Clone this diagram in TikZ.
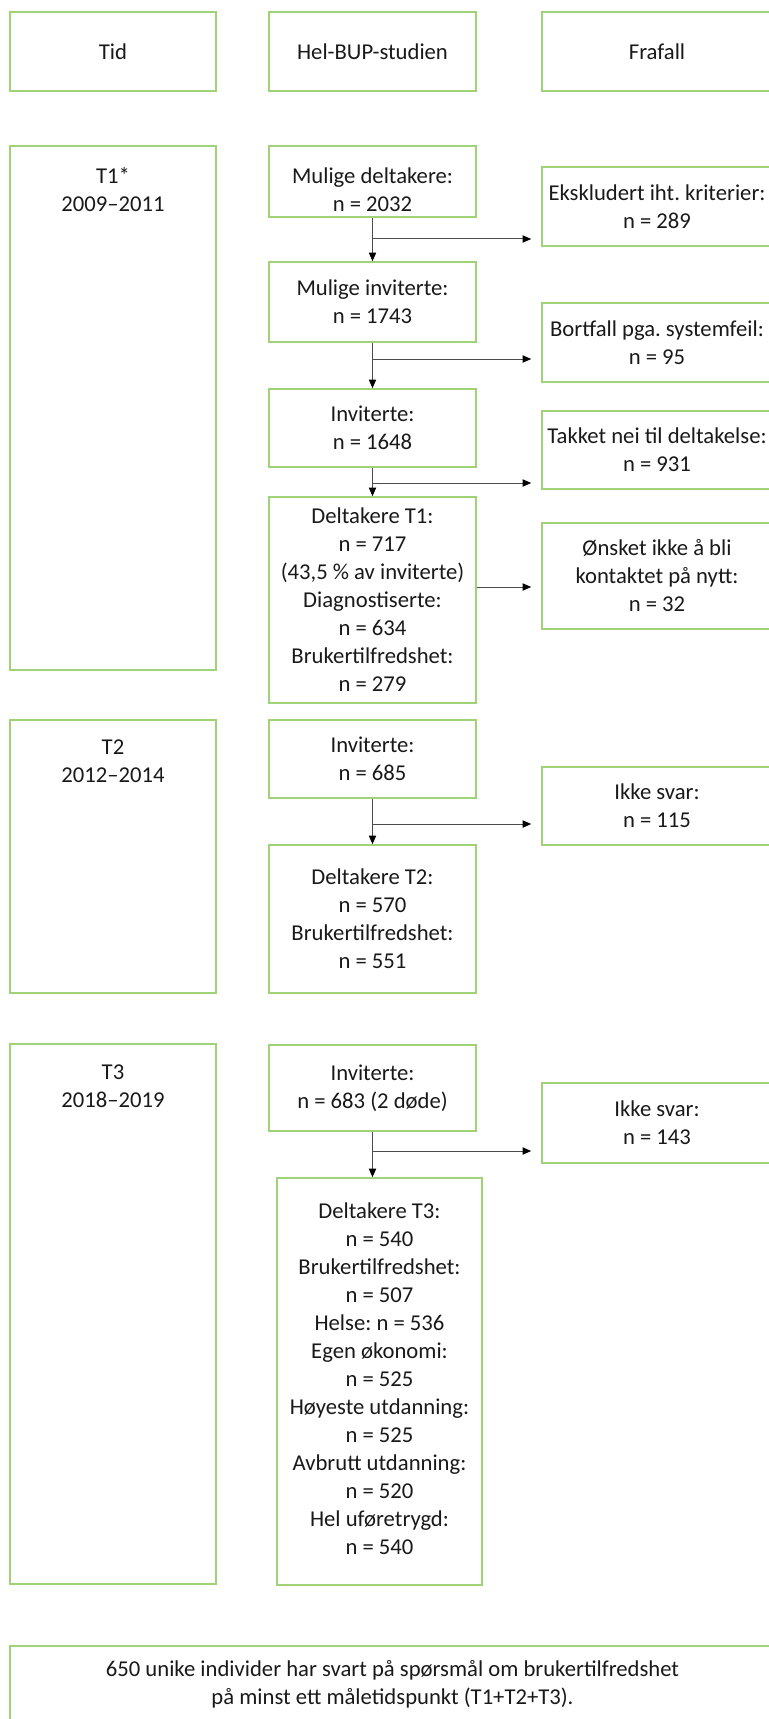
\documentclass[tikz,border=0pt]{standalone}
\usepackage{fontspec}
\setmainfont{Carlito}
\usetikzlibrary{arrows.meta}
\definecolor{framegreen}{RGB}{160,210,120}
\definecolor{inkgray}{RGB}{25,25,25}
\newcommand\overrun[1]{\makebox[0pt]{#1}}
\frenchspacing

\begin{document}
\begin{tikzpicture}[x=0.75pt, y=-0.75pt,
    every node/.style={font=\fontsize{17}{21}\selectfont, text=inkgray},
    frame/.style={draw=framegreen, line width=1.2pt, inner sep=0pt, align=center},
    leftbox/.style={frame, minimum width=154.5pt},
    midbox/.style={frame, minimum width=155.25pt},
    rightbox/.style={frame, minimum width=172.5pt},
    toptext/.style 2 args={label={[anchor=north, align=center, inner sep=0pt, yshift=-#1]north:{#2}}},
    arr/.style={draw=black!70, line width=0.75pt, -{Triangle[length=6.5pt, width=5.5pt, color=black]}},
  ]
  \useasboundingbox (0,0) rectangle (768,1719);

  % header row
  \node[leftbox, minimum height=59.25pt] (tid) at (113,51.5) {Tid};
  \node[midbox, minimum height=59.25pt] (studie) at (372.5,51.5) {Hel-BUP-studien};
  \node[rightbox, minimum height=59.25pt] (frafall) at (657,51.5) {Frafall};

  % T1
  \node[leftbox, minimum height=393pt, toptext={16.5pt}{T1*\\2009--2011}] (t1) at (113,408) {};
  \node[midbox, minimum height=53.25pt, toptext={17pt}{Mulige deltakere:\\n = 2032}] (md) at (372.5,181.5) {};
  \node[rightbox, minimum height=59.25pt] (ex) at (657,206.5) {\overrun{Ekskludert iht. kriterier:}\\n = 289};
  \node[midbox, minimum height=60pt] (mi) at (372.5,302) {Mulige inviterte:\\n = 1743};
  \node[rightbox, minimum height=59.25pt] (bf) at (657,342.5) {\overrun{Bortfall pga. systemfeil:}\\n = 95};
  \node[midbox, minimum height=58.5pt] (inv1) at (372.5,428) {Inviterte:\\n = 1648};
  \node[rightbox, minimum height=58.5pt] (tn) at (657,450) {\overrun{Takket nei til deltakelse:}\\n = 931};
  \node[midbox, minimum height=154.5pt] (d1) at (372.5,600)
    {Deltakere T1:\\n = 717\\(43,5 \% av inviterte)\\Diagnostiserte:\\n = 634\\Brukertilfredshet:\\n = 279};
  \node[rightbox, minimum height=79.5pt] (on) at (657,576) {Ønsket ikke å bli\\kontaktet på nytt:\\n = 32};

  \coordinate (b1) at (372.5,239);
  \coordinate (b2) at (372.5,359);
  \coordinate (b3) at (372.5,483);
  \coordinate (q1) at (0,587);
  \draw[arr] (md.south) -- (mi.north);
  \draw[arr] (mi.south) -- (inv1.north);
  \draw[arr] (inv1.south) -- (d1.north);
  \draw[arr] (b1) -- ([xshift=-7.5pt]ex.west |- b1);
  \draw[arr] (b2) -- ([xshift=-7.5pt]bf.west |- b2);
  \draw[arr] (b3) -- ([xshift=-7.5pt]tn.west |- b3);
  \draw[arr] (d1.east |- q1) -- ([xshift=-7.5pt]on.west |- q1);

  % T2
  \node[leftbox, minimum height=204.75pt, toptext={15pt}{T2\\2012--2014}] (t2) at (113,856.5) {};
  \node[midbox, minimum height=58.5pt] (inv2) at (372.5,759) {Inviterte:\\n = 685};
  \node[rightbox, minimum height=58.5pt] (ns2) at (657,806) {Ikke svar:\\n = 115};
  \node[midbox, minimum height=111pt] (d2) at (372.5,919) {Deltakere T2:\\n = 570\\Brukertilfredshet:\\n = 551};

  \coordinate (b4) at (372.5,824);
  \draw[arr] (inv2.south) -- (d2.north);
  \draw[arr] (b4) -- ([xshift=-7.5pt]ns2.west |- b4);

  % T3
  \node[leftbox, minimum height=405pt, toptext={16pt}{T3\\2018--2019}] (t3) at (113,1314) {};
  \node[midbox, minimum height=64.5pt] (inv3) at (372.5,1088) {Inviterte:\\n = 683 (2 døde)};
  \node[rightbox, minimum height=60pt] (ns3) at (657,1123) {Ikke svar:\\n = 143};
  \node[frame, minimum width=153.75pt, minimum height=305.25pt,
    toptext={19pt}{Deltakere T3:\\n = 540\\Brukertilfredshet:\\n = 507\\Helse: n = 536\\Egen økonomi:\\n = 525\\Høyeste utdanning:\\n = 525\\Avbrutt utdanning:\\n = 520\\Hel uføretrygd:\\n = 540}]
    (d3) at (379.5,1381.5) {};

  \coordinate (b5) at (372.5,1151);
  \draw[arr] (inv3.south) -- (inv3.south |- d3.north);
  \draw[arr] (b5) -- ([xshift=-7.5pt]ns3.west |- b5);

  % summary
  \node[frame, minimum width=573.75pt, minimum height=70.5pt,
    toptext={11pt}{650 unike individer har svart på spørsmål om brukertilfredshet\\på minst ett måletidspunkt (T1+T2+T3).}]
    (sum) at (392.5,1693) {};
\end{tikzpicture}
\end{document}
